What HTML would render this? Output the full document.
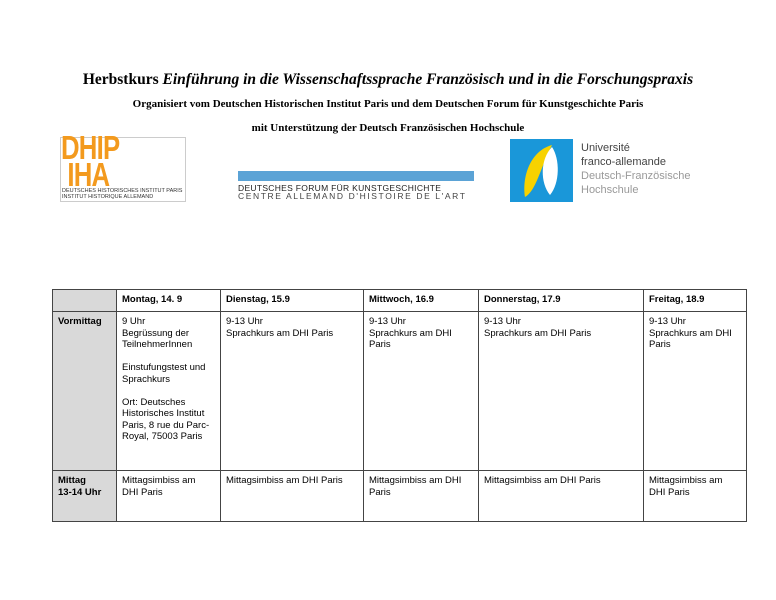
<!DOCTYPE html>
<html><head><meta charset="utf-8"><style>
body{margin:0;width:776px;height:600px;background:#fff;position:relative;font-family:"Liberation Sans",sans-serif;overflow:hidden}
.a{position:absolute;white-space:nowrap}
.serif{font-family:"Liberation Serif",serif;font-weight:bold}
table{position:absolute;left:52px;top:289px;border-collapse:collapse;font-size:9.5px;line-height:11.5px}
td{border:1.6px solid #444;vertical-align:top;padding:4px 5px}
td.g{background:#d9d9d9;font-weight:bold}
tr.h td{font-weight:bold;height:13px}
</style></head><body>
<div class="a serif" style="left:0;width:776px;text-align:center;top:71px;font-size:15.5px">Herbstkurs <i>Einführung in die Wissenschaftssprache Französisch und in die Forschungspraxis</i></div>
<div class="a serif" style="left:0;width:776px;text-align:center;top:98px;font-size:11px">Organisiert vom Deutschen Historischen Institut Paris und dem Deutschen Forum für Kunstgeschichte Paris</div>
<div class="a serif" style="left:0;width:776px;text-align:center;top:122px;font-size:11px">mit Unterstützung der Deutsch Französischen Hochschule</div>
<div class="a" style="left:60px;top:137px;width:124px;height:63px;border:1px solid #ccc"></div>
<div class="a" style="left:61px;top:134px;font-size:33px;line-height:27px;color:#f39a1e;font-weight:bold;letter-spacing:-1px;transform:scaleX(.78);transform-origin:left">DHIP<br>&nbsp;IHA</div>
<div class="a" style="left:62px;top:188px;font-size:5.5px;line-height:6px;color:#333">DEUTSCHES HISTORISCHES INSTITUT PARIS<br>INSTITUT HISTORIQUE ALLEMAND</div>
<div class="a" style="left:238px;top:171px;width:236px;height:10px;background:#5ba3d6"></div>
<div class="a" style="left:238px;top:184px;font-size:8.5px;line-height:8px;color:#222;letter-spacing:.3px">DEUTSCHES FORUM FÜR KUNSTGESCHICHTE<br><span style="letter-spacing:1.6px;color:#444">CENTRE ALLEMAND D'HISTOIRE DE L'ART</span></div>
<div class="a" style="left:510px;top:139px;width:63px;height:63px;background:#1a97d9;overflow:hidden">
<svg width="63" height="63"><path d="M42 6 C20 12 12 38 15 58 C26 52 30 30 42 6Z" fill="#f7d200"/><path d="M42 8 C30 20 30 44 40 56 C50 44 50 20 42 8Z" fill="#fff"/></svg></div>
<div class="a" style="left:581px;top:141px;font-size:11px;line-height:14px;color:#444">Université<br>franco-allemande<br><span style="color:#999">Deutsch-Französische<br>Hochschule</span></div>
<table>
<tr class="h"><td class="g" style="width:53px"></td><td style="width:93px">Montag, 14. 9</td><td style="width:132px">Dienstag, 15.9</td><td style="width:104px">Mittwoch, 16.9</td><td style="width:154px">Donnerstag, 17.9</td><td style="width:92px">Freitag, 18.9</td></tr>
<tr style="height:159px"><td class="g">Vormittag</td><td>9 Uhr<br>Begrüssung der<br>TeilnehmerInnen<br><br>Einstufungstest und<br>Sprachkurs<br><br>Ort: Deutsches<br>Historisches Institut<br>Paris, 8 rue du Parc-<br>Royal, 75003 Paris</td><td>9-13 Uhr<br>Sprachkurs am DHI Paris</td><td>9-13 Uhr<br>Sprachkurs am DHI<br>Paris</td><td>9-13 Uhr<br>Sprachkurs am DHI Paris</td><td>9-13 Uhr<br>Sprachkurs am DHI<br>Paris</td></tr>
<tr style="height:51px"><td class="g">Mittag<br>13-14 Uhr</td><td>Mittagsimbiss am<br>DHI Paris</td><td>Mittagsimbiss am DHI Paris</td><td>Mittagsimbiss am DHI<br>Paris</td><td>Mittagsimbiss am DHI Paris</td><td>Mittagsimbiss am<br>DHI Paris</td></tr>
</table>
</body></html>
